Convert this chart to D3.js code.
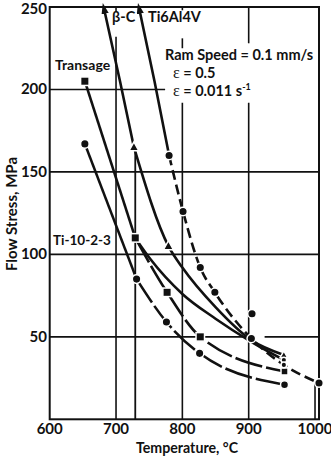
<!DOCTYPE html>
<html><head><meta charset="utf-8">
<script src="https://cdn.jsdelivr.net/npm/d3@7"></script>
<style>body{margin:0;background:#fff}</style>
</head><body><svg id="c" width="331" height="458"></svg>
<script>
// ---- data ----
const xTicks = [600, 700, 800, 900, 1000];
const yTicks = [50, 100, 150, 200, 250];
// Ti-10-2-3 (circles)
const ti1023Solid = [[653,167],[731,85]];
const ti1023Dash  = [[731,85],[776,59],[826,40],[954,21]];
const ti1023Marks = [[653,167],[731,85],[776,59],[826,40],[954,21]];
// Transage (squares)
const transageSolid = [[653,205],[729,110]];
const transageDash  = [[729,110],[777,77],[827,50],[954,29]];
const transageFit   = [[729,110],[752,97],[800,76],[850,61],[904,47],[953,36]];
const transageMarks = [[653,205],[729,110],[777,77],[827,50],[954,29]];
// beta-C (triangles)
const betaCArrow = [[683,247],[706,205],[727,165]];
const betaC      = [[727,165],[779,105],[800,92],[850,68],[904,48],[953,39]];
const betaCMarks = [[727,165],[779,105],[953,39]];
// Ti6Al4V (circles)
const ti64Arrow = [[736,247],[758,205],[780,160]];
const ti64Dash  = [[780,160],[801,126],[827,92],[849,77],[904,49],[953,33],[1006,22]];
const ti64Marks = [[780,160],[801,126],[827,92],[849,77],[904,49],[905,64],[1006,22]];
const smallMarks = [[953,36],[953,33]];
// vertical marks
const transusBetaC = [[729,163],[729,0]];
const mark1000 = [[1000,0],[1000,22]];

// ---- scales ----
const svg = d3.select("#c");
const x = d3.scaleLinear().domain([600,1006]).range([49.7,319]);
const y = d3.scaleLinear().domain([0,250]).range([419.3,7]);
const font = "Lato, 'Open Sans', sans-serif";

// grid lines
const g = svg.append("g").attr("stroke","#111").attr("stroke-width",1.6);
const vSegs = [[700,250,247],[700,232,0],[800,250,248],[800,231,225],[800,192,0],[900,250,228],[900,192,0]];
vSegs.forEach(([t,a,b])=>g.append("line").attr("x1",x(t)).attr("x2",x(t)).attr("y1",y(a)).attr("y2",y(b)));
const hSegs = [[200,600,774],[150,600,1006],[100,600,1006],[50,600,903],[50,924,1006]];
hSegs.forEach(([v,a,b])=>g.append("line").attr("y1",y(v)).attr("y2",y(v)).attr("x1",x(a)).attr("x2",x(b)));

// frame
svg.append("rect").attr("x",x(600)).attr("y",y(250)).attr("width",x(1006)-x(600)).attr("height",y(0)-y(250))
  .attr("fill","none").attr("stroke","#111").attr("stroke-width",2);

// arrow marker
svg.append("defs").append("marker").attr("id","arr").attr("viewBox","0 0 12 8")
  .attr("refX",2).attr("refY",4).attr("markerWidth",4.2).attr("markerHeight",2.8)
  .attr("orient","auto-start-reverse").attr("markerUnits","strokeWidth")
  .append("path").attr("d","M0,0 L12,4 L0,8 z").attr("fill","#111");

const line = d3.line().x(d=>x(d[0])).y(d=>y(d[1])).curve(d3.curveMonotoneX);
function path(data, dash, arrow){
  const p = svg.append("path").datum(data).attr("d",line).attr("fill","none")
    .attr("stroke","#111").attr("stroke-width",2.6);
  if(dash) p.attr("stroke-dasharray",dash);
  if(arrow) p.attr("marker-start","url(#arr)");
  return p;
}
svg.append("path").datum(transusBetaC).attr("d",d3.line().x(d=>x(d[0])).y(d=>y(d[1])))
  .attr("stroke","#111").attr("stroke-width",1.8);
svg.append("path").datum(mark1000).attr("d",d3.line().x(d=>x(d[0])).y(d=>y(d[1])))
  .attr("stroke","#111").attr("stroke-width",1.6);

path(ti1023Solid);
path(ti1023Dash,"28,4");
path(transageSolid);
path(transageDash,"28,4");
path(transageFit);
path(betaCArrow,null,true);
path(betaC);
path(ti64Arrow,null,true);
path(ti64Dash,"10,5");

// markers
function circles(data,r){
  svg.append("g").selectAll("circle").data(data).join("circle")
    .attr("cx",d=>x(d[0])).attr("cy",d=>y(d[1])).attr("r",r)
    .attr("fill","#111").attr("stroke","#fff").attr("stroke-width",1.5);
}
function squares(data,s){
  svg.append("g").selectAll("rect").data(data).join("rect")
    .attr("x",d=>x(d[0])-s/2).attr("y",d=>y(d[1])-s/2).attr("width",s).attr("height",s)
    .attr("fill","#111").attr("stroke","#fff").attr("stroke-width",1.5);
}
function triangles(data,s){
  svg.append("g").selectAll("path").data(data).join("path")
    .attr("d",d=>{const cx=x(d[0]),cy=y(d[1]);return `M${cx},${cy-s*0.6}L${cx+s*0.55},${cy+s*0.4}L${cx-s*0.55},${cy+s*0.4}Z`;})
    .attr("fill","#111").attr("stroke","#fff").attr("stroke-width",1.5);
}
circles(ti1023Marks.slice(0,4),4.3);
circles(ti1023Marks.slice(4),4);
squares(transageMarks.slice(0,4),8.5);
squares(transageMarks.slice(4),7);
triangles(betaCMarks.slice(0,2),9);
triangles(betaCMarks.slice(2),7);
circles(ti64Marks,4.3);
circles(smallMarks,2.8);

// axes labels
const tl = svg.append("g").attr("font-family",font).attr("font-weight","bold").attr("fill","#111");
tl.selectAll(".xt").data(xTicks).join("text").attr("x",d=>x(d)).attr("y",434)
  .attr("text-anchor","middle").attr("font-size",15).text(d=>d);
tl.selectAll(".yt").data(yTicks).join("text").attr("x",47).attr("y",d=>Math.max(y(d)+5,13.5))
  .attr("text-anchor","end").attr("font-size",15).text(d=>d);
tl.append("text").attr("x",187).attr("y",453).attr("text-anchor","middle").attr("font-size",14.2).text("Temperature, °C");
tl.append("text").attr("transform","translate(17,214) rotate(-90)").attr("text-anchor","middle")
  .attr("font-size",15).text("Flow Stress, MPa");

// annotations
const an = svg.append("g").attr("font-family",font).attr("font-weight","bold").attr("fill","#111").attr("font-size",14);
an.append("text").attr("x",112).attr("y",22).attr("font-size",14.5).text("β-C");
an.append("text").attr("x",148).attr("y",22).attr("font-size",14.5).text("Ti6Al4V");
an.append("text").attr("x",55).attr("y",70).text("Transage");
an.append("text").attr("x",53).attr("y",245).attr("font-size",13.5).text("Ti-10-2-3");
an.append("text").attr("x",165).attr("y",60).attr("font-size",14.5).text("Ram Speed = 0.1 mm/s");
const e1 = an.append("text").attr("x",173).attr("y",78).attr("font-size",14.5);
e1.append("tspan").attr("font-family","'Liberation Serif', serif").attr("font-weight","normal").attr("font-size",16).text("ε");
e1.append("tspan").text(" = 0.5");
const e2 = an.append("text").attr("x",173).attr("y",96).attr("font-size",14.5);
e2.append("tspan").attr("font-family","'Liberation Serif', serif").attr("font-weight","normal").attr("font-size",16).text("ε");
e2.append("tspan").text(" = 0.011 s");
e2.append("tspan").attr("font-size",9).attr("dy",-6).text("-1");
</script></body></html>
